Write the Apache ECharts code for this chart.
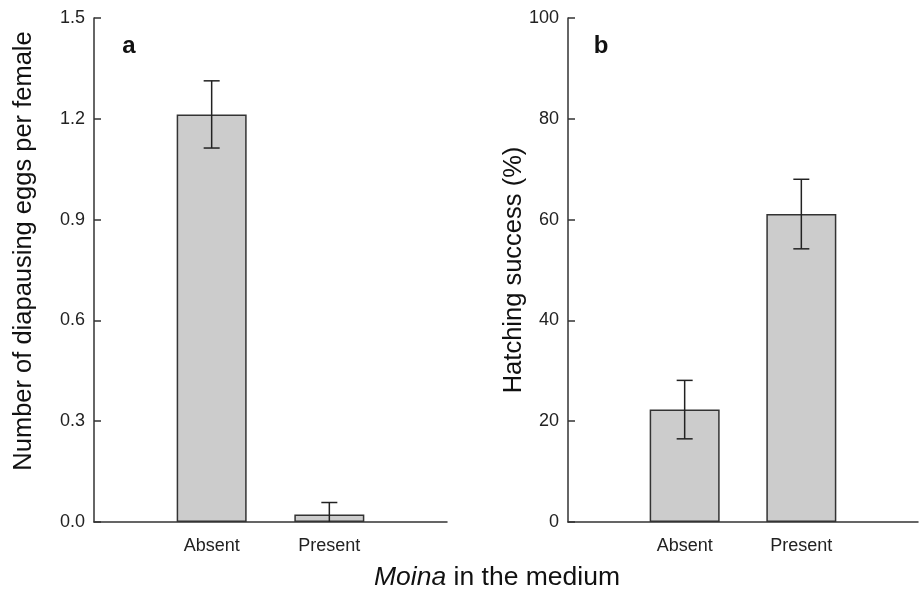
<!DOCTYPE html>
<html>
<head>
<meta charset="utf-8">
<script src="https://cdn.jsdelivr.net/npm/echarts@6/dist/echarts.min.js"></script>
<style>html,body{margin:0;padding:0;background:#fff;}#chart{width:921px;height:599px;}</style>
</head>
<body>
<div id="chart"></div>
<script>
// Data
var categories = ['Absent', 'Present'];
var eggsMean = [1.213, 0.022];
var eggsErr = [0.100, 0.036];
var hatchMean = [22.3, 61.1];
var hatchErr = [5.8, 6.9];
var eggsTicks = { min: 0, max: 1.5, interval: 0.3 };
var hatchTicks = { min: 0, max: 100, interval: 20 };

var FONT = '"Liberation Sans", Arial, sans-serif';
var LINE = '#333333';

function barData(vals) { return vals.map(function (v, i) { return [i + 1, v]; }); }
function errData(vals, errs) { return vals.map(function (v, i) { return [i + 1, v - errs[i], v + errs[i]]; }); }

function errRender(params, api) {
  var x = api.value(0);
  var loV = api.value(1);
  var clipped = loV < 0;
  var lo = api.coord([x, clipped ? 0 : loV]);
  var hi = api.coord([x, api.value(2)]);
  var half = 8;
  var st = { stroke: '#222', lineWidth: 1.5 };
  var kids = [
    { type: 'line', shape: { x1: hi[0], y1: hi[1], x2: lo[0], y2: lo[1] }, style: st },
    { type: 'line', shape: { x1: hi[0] - half, y1: hi[1], x2: hi[0] + half, y2: hi[1] }, style: st }
  ];
  if (!clipped) {
    kids.push({ type: 'line', shape: { x1: lo[0] - half, y1: lo[1], x2: lo[0] + half, y2: lo[1] }, style: st });
  }
  return { type: 'group', children: kids };
}

function xAxis(idx) {
  return {
    type: 'value', gridIndex: idx, min: 0, max: categories.length + 1, interval: 1,
    axisLine: { show: true, lineStyle: { color: LINE, width: 1.5 } },
    axisTick: { show: false },
    splitLine: { show: false },
    axisLabel: {
      margin: 15, color: '#222', fontSize: 18, fontFamily: FONT,
      formatter: function (v) { return categories[v - 1] || ''; }
    }
  };
}
function yAxis(idx, t, dec) {
  return {
    type: 'value', gridIndex: idx, min: t.min, max: t.max, interval: t.interval,
    axisLine: { show: true, lineStyle: { color: LINE, width: 1.5 } },
    axisTick: { show: true, inside: true, length: 7, lineStyle: { color: LINE, width: 1.5 } },
    splitLine: { show: false },
    axisLabel: {
      margin: 9, color: '#222', fontSize: 18, fontFamily: FONT,
      formatter: function (v) { return dec ? v.toFixed(dec) : String(v); }
    }
  };
}

var chart = echarts.init(document.getElementById('chart'), null, { renderer: 'canvas' });
chart.setOption({
  animation: false,
  backgroundColor: '#fff',
  grid: [
    { left: 94, top: 18, width: 353, height: 504 },
    { left: 568, top: 18, width: 352, height: 504 }
  ],
  xAxis: [xAxis(0), xAxis(1)],
  yAxis: [yAxis(0, eggsTicks, 1), yAxis(1, hatchTicks, 0)],
  series: [
    { type: 'bar', xAxisIndex: 0, yAxisIndex: 0, data: barData(eggsMean), barWidth: 70,
      itemStyle: { color: '#cccccc', borderColor: LINE, borderWidth: 1.5 } },
    { type: 'custom', xAxisIndex: 0, yAxisIndex: 0, data: errData(eggsMean, eggsErr), renderItem: errRender, z: 5 },
    { type: 'bar', xAxisIndex: 1, yAxisIndex: 1, data: barData(hatchMean), barWidth: 70,
      itemStyle: { color: '#cccccc', borderColor: LINE, borderWidth: 1.5 } },
    { type: 'custom', xAxisIndex: 1, yAxisIndex: 1, data: errData(hatchMean, hatchErr), renderItem: errRender, z: 5 }
  ],
  graphic: [
    { type: 'text', x: 24, y: 251, rotation: Math.PI / 2,
      style: { text: 'Number of diapausing eggs per female', fontSize: 25.5, fontFamily: FONT, fill: '#111',
        textAlign: 'center', textVerticalAlign: 'middle' } },
    { type: 'text', x: 514, y: 270, rotation: Math.PI / 2,
      style: { text: 'Hatching success (%)', fontSize: 25.5, fontFamily: FONT, fill: '#111',
        textAlign: 'center', textVerticalAlign: 'middle' } },
    { type: 'text', x: 129, y: 46,
      style: { text: 'a', fontSize: 24, fontWeight: 'bold', fontFamily: FONT, fill: '#111',
        textAlign: 'center', textVerticalAlign: 'middle' } },
    { type: 'text', x: 601, y: 46,
      style: { text: 'b', fontSize: 24, fontWeight: 'bold', fontFamily: FONT, fill: '#111',
        textAlign: 'center', textVerticalAlign: 'middle' } },
    { type: 'text', x: 497, y: 578,
      style: { text: '{i|Moina} in the medium', fontSize: 26.5, fontFamily: FONT, fill: '#111',
        textAlign: 'center', textVerticalAlign: 'middle',
        rich: { i: { fontStyle: 'italic', fontSize: 26.5, fontFamily: FONT, fill: '#111' } } } }
  ]
});
</script>
</body>
</html>
